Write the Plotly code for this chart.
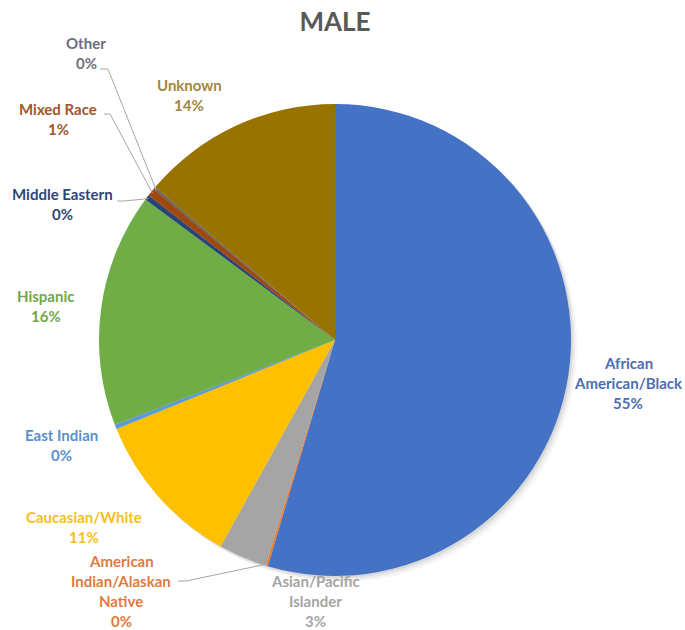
import math
import plotly.graph_objects as go

# Ethnicity breakdown (percent of male total), clockwise from 12 o'clock
categories = [
    "African American/Black",
    "American Indian/Alaskan Native",
    "Asian/Pacific Islander",
    "Caucasian/White",
    "East Indian",
    "Hispanic",
    "Middle Eastern",
    "Mixed Race",
    "Other",
    "Unknown",
]
values = [54.6, 0.15, 3.3, 10.8, 0.3, 16.0, 0.35, 0.55, 0.15, 13.8]

slice_colors = ["#4472C4", "#ED7D31", "#A5A5A5", "#FFC000", "#5B9BD5",
                "#70AD47", "#264478", "#9E480E", "#636363", "#997300"]
label_colors = ["#4E6DB0", "#E07A3C", "#A5A5A5", "#F5BE20", "#5B8FCB",
                "#6FA84A", "#2D4677", "#A3552A", "#6E6E7A", "#A38640"]

# How each category name is broken over lines in its data label
label_lines = [
    ["African", "American/Black"],
    ["American", "Indian/Alaskan", "Native"],
    ["Asian/Pacific", "Islander"],
    ["Caucasian/White"],
    ["East Indian"],
    ["Hispanic"],
    ["Middle Eastern"],
    ["Mixed Race"],
    ["Other"],
    ["Unknown"],
]

W, H = 685, 630
CX, CY, R = 335, 340, 236  # pie centre and radius in pixels (from top-left)

# label anchor (centre of first line) in pixels
label_pos = [
    (628, 363), (121, 561), (315, 581), (84, 517), (61, 435),
    (46, 296), (62, 194), (58, 109), (86, 43), (189, 85),
]
LINE_STEP = 20

# leader line elbows: (start x, start y, elbow x) for labels that need a pointer
leaders = {
    1: (178, 581, 186),
    6: (117, 201, 124),
    7: (104, 114, 110),
    8: (100, 69, 108),
}


def px(x):
    return x / W


def py(y):
    return 1 - y / H


total = sum(values)
fig = go.Figure(go.Pie(
    labels=categories,
    values=values,
    sort=False,
    direction="clockwise",
    rotation=0,
    marker=dict(colors=slice_colors, line=dict(width=0)),
    textinfo="none",
    hoverinfo="label+percent",
    showlegend=False,
    domain=dict(x=[px(CX - R), px(CX + R)], y=[py(CY + R), py(CY - R)]),
))

annotations = []
shapes = []

# soft drop shadow behind the pie
for off, alpha in [(6, 0.03), (4, 0.05), (2, 0.07)]:
    shapes.append(dict(
        type="circle", xref="paper", yref="paper", layer="below",
        x0=px(CX - R + off), x1=px(CX + R + off),
        y0=py(CY + R + off), y1=py(CY - R + off),
        fillcolor=f"rgba(0,0,0,{alpha})", line=dict(width=0),
    ))

cum = 0.0
for i, (cat, v) in enumerate(zip(categories, values)):
    mid = (cum + v / 2) / total
    cum += v
    pct = f"{round(v / total * 100)}%"
    lines = label_lines[i] + [pct]
    lx, ly = label_pos[i]
    for k, t in enumerate(lines):
        annotations.append(dict(
            x=px(lx), y=py(ly + k * LINE_STEP), xref="paper", yref="paper",
            text=f"<b>{t}</b>", showarrow=False, xanchor="center", yanchor="middle",
            font=dict(family="Lato", size=15, color=label_colors[i]),
        ))
    if i in leaders:
        sx, sy, ex = leaders[i]
        ang = 2 * math.pi * mid
        tx = CX + (R - 2) * math.sin(ang)
        ty = CY - (R - 2) * math.cos(ang)
        shapes.append(dict(
            type="path", xref="paper", yref="paper",
            path=f"M {px(sx)} {py(sy)} L {px(ex)} {py(sy)} L {px(tx)} {py(ty)}",
            line=dict(color="#A6A6A6", width=1),
        ))

fig.update_layout(
    width=W, height=H,
    margin=dict(l=0, r=0, t=0, b=0),
    paper_bgcolor="white",
    plot_bgcolor="white",
    title=dict(
        text="<b>MALE</b>", x=px(CX), xanchor="center",
        y=py(22), yanchor="middle", yref="container",
        font=dict(family="Lato", size=26, color="#595959"),
    ),
    annotations=annotations,
    shapes=shapes,
)

fig.write_html("out.html")
